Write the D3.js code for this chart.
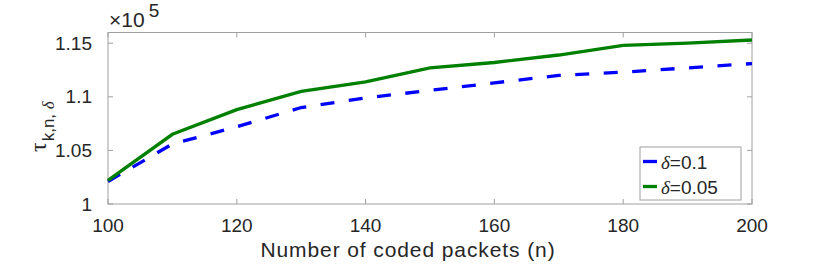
<!DOCTYPE html>
<html>
<head>
<meta charset="utf-8">
<script src="https://cdn.jsdelivr.net/npm/d3@7"></script>
<style>
  body { margin: 0; background: #fff; }
  text { font-family: "Liberation Sans", Arial, sans-serif; fill: #262626; }
</style>
</head>
<body>
<div id="chart"></div>
<script>
// packets n on the x axis
let packets = [100, 110, 120, 130, 140, 150, 160, 170, 180, 190, 200];
// values in units of 1e5
let delta01 = [1.021, 1.056, 1.072, 1.090, 1.099, 1.106, 1.113, 1.120, 1.123, 1.127, 1.131];
let delta005 = [1.022, 1.065, 1.088, 1.105, 1.114, 1.127, 1.132, 1.139, 1.148, 1.150, 1.153];
let xTicks = [100, 120, 140, 160, 180, 200];
let yTicks = [1, 1.05, 1.1, 1.15];
let legendLabels = ["0.1", "0.05"];

let svgWidth = 830;
let svgHeight = 264;
let margin = { top: 32.5, right: 78, bottom: 60, left: 108 };
let width = svgWidth - margin.left - margin.right;
let height = svgHeight - margin.top - margin.bottom;

let svg = d3.select("#chart").append("svg")
    .attr("width", svgWidth)
    .attr("height", svgHeight);

let chartGroup = svg.append("g")
    .attr("transform", `translate(${margin.left},${margin.top})`);

let xScale = d3.scaleLinear().domain([100, 200]).range([0, width]);
let yScale = d3.scaleLinear().domain([1, 1.16]).range([height, 0]);

let axisColor = "#a0a0a0";

// box
chartGroup.append("rect")
    .attr("width", width).attr("height", height)
    .attr("fill", "none").attr("stroke", axisColor).attr("stroke-width", 1);

// inward ticks on all four sides
let tickLen = 5;
xTicks.forEach(t => {
    let x = xScale(t);
    chartGroup.append("line").attr("x1", x).attr("x2", x).attr("y1", height).attr("y2", height - tickLen).attr("stroke", axisColor);
    chartGroup.append("line").attr("x1", x).attr("x2", x).attr("y1", 0).attr("y2", tickLen).attr("stroke", axisColor);
});
yTicks.forEach(t => {
    let y = yScale(t);
    chartGroup.append("line").attr("x1", 0).attr("x2", tickLen).attr("y1", y).attr("y2", y).attr("stroke", axisColor);
    chartGroup.append("line").attr("x1", width).attr("x2", width - tickLen).attr("y1", y).attr("y2", y).attr("stroke", axisColor);
});

// tick labels
chartGroup.selectAll(".xlab")
    .data(xTicks)
    .enter().append("text")
    .attr("x", d => xScale(d))
    .attr("y", height + 28)
    .attr("text-anchor", "middle")
    .attr("font-size", "19px")
    .text(d => d);

chartGroup.selectAll(".ylab")
    .data(yTicks)
    .enter().append("text")
    .attr("x", -16)
    .attr("y", d => yScale(d) + 6.5)
    .attr("text-anchor", "end")
    .attr("font-size", "19px")
    .text(d => d);

// lines
let line = d3.line()
    .x((d, i) => xScale(packets[i]))
    .y(d => yScale(d));

chartGroup.append("path")
    .datum(delta01)
    .attr("d", line)
    .attr("fill", "none")
    .attr("stroke", "#0000ff")
    .attr("stroke-width", 3.3)
    .attr("stroke-dasharray", "14,14.5");

chartGroup.append("path")
    .datum(delta005)
    .attr("d", line)
    .attr("fill", "none")
    .attr("stroke", "#008000")
    .attr("stroke-width", 3.3);

// exponent label
let expText = svg.append("text")
    .attr("x", 109)
    .attr("y", 27)
    .attr("font-size", "21px");
expText.append("tspan").text("\u00d710");
expText.append("tspan").attr("dx", 4).attr("dy", -10).attr("font-size", "19px").text("5");

// x label
svg.append("text")
    .attr("x", 408)
    .attr("y", 256.5)
    .attr("text-anchor", "middle")
    .attr("font-size", "21px")
    .attr("letter-spacing", "0.9px")
    .text("Number of coded packets (n)");

// y label
let yLab = svg.append("text")
    .attr("transform", "translate(46,152) rotate(-90)")
    .attr("font-size", "24px");
yLab.append("tspan").attr("font-family", "Liberation Serif, serif").text("\u03c4");
yLab.append("tspan").attr("dy", 8).attr("dx", 1).attr("font-size", "17px").text("k,n, ");
yLab.append("tspan").attr("font-size", "17px")
    .attr("font-family", "Liberation Serif, serif").attr("font-style", "italic").text("\u03b4");

// legend
let legend = svg.append("g").attr("transform", "translate(640,147)");
legend.append("rect")
    .attr("width", 101).attr("height", 53)
    .attr("fill", "#fff").attr("stroke", axisColor);
let legendColors = ["#0000ff", "#008000"];
legendLabels.forEach((lab, i) => {
    let y = 14.5 + i * 25;
    legend.append("line")
        .attr("x1", 3).attr("x2", 17).attr("y1", y).attr("y2", y)
        .attr("stroke", legendColors[i]).attr("stroke-width", 3.3);
    let t = legend.append("text").attr("x", 21).attr("y", y + 7).attr("font-size", "19px");
    t.append("tspan").attr("font-family", "Liberation Serif, serif").attr("font-style", "italic").text("\u03b4");
    t.append("tspan").text("=" + lab);
});
</script>
</body>
</html>
